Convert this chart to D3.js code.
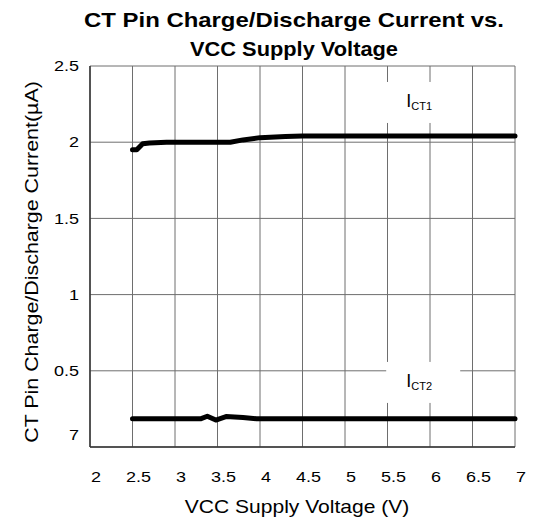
<!DOCTYPE html>
<html>
<head>
    <meta charset="utf-8" />
    <title>CT Pin Charge/Discharge Current</title>
    <script type="text/javascript" src="https://cdn.jsdelivr.net/npm/d3@7/dist/d3.min.js"></script>
    <style>
        body { margin: 0; background: #fff; }
        text { font-family: Arial, "Liberation Sans", sans-serif; fill: #000; }
    </style>
</head>
<body>
    <div id="graph"></div>
    <script>
        // data
        var ict1Voltage = [2.5, 2.55, 2.62, 2.7, 2.9, 3.3, 3.65, 3.8, 4.0, 4.3, 4.5, 5, 6, 7];
        var ict1Current = [1.95, 1.95, 1.99, 1.995, 2.0, 2.0, 2.0, 2.015, 2.03, 2.037, 2.04, 2.04, 2.04, 2.04];
        var ict2Voltage = [2.5, 3.0, 3.3, 3.38, 3.48, 3.6, 3.8, 3.96, 5, 6, 7];
        var ict2Current = [0.185, 0.185, 0.185, 0.202, 0.177, 0.2, 0.194, 0.185, 0.185, 0.185, 0.185];
        var seriesNames = ["CT1", "CT2"];
        var xTicks = [2, 2.5, 3, 3.5, 4, 4.5, 5, 5.5, 6, 6.5, 7];
        var yTicks = [0, 0.5, 1, 1.5, 2, 2.5];
        var yTickLabels = ["7", "0.5", "1", "1.5", "2", "2.5"];

        var w = 536;
        var h = 521;
        var margin = { left: 90, right: 21, top: 66, bottom: 74 };

        var svg = d3.select("#graph")
            .append("svg")
            .attr("width", w)
            .attr("height", h);

        var x = d3.scaleLinear().domain([2, 7]).range([margin.left, w - margin.right]);
        var y = d3.scaleLinear().domain([0, 2.5]).range([h - margin.bottom, margin.top]);

        // the reference text is a bit wider than Arial, stretch it sideways
        function place(px, py, sx, rot) {
            return "translate(" + px + "," + py + ")" + (rot ? " rotate(" + rot + ")" : "") + " scale(" + sx + ",1)";
        }

        // title
        svg.append("text")
            .attr("x", 84).attr("y", 27)
            .attr("font-size", "21px").attr("font-weight", "bold")
            .attr("textLength", 420).attr("lengthAdjust", "spacingAndGlyphs")
            .text("CT Pin Charge/Discharge Current vs.");
        svg.append("text")
            .attr("x", 190).attr("y", 56)
            .attr("font-size", "21px").attr("font-weight", "bold")
            .attr("textLength", 208).attr("lengthAdjust", "spacingAndGlyphs")
            .text("VCC Supply Voltage");

        // grid
        svg.selectAll("line.vgrid")
            .data(xTicks)
            .enter()
            .append("line")
            .attr("class", "vgrid")
            .attr("x1", function (d) { return x(d); })
            .attr("x2", function (d) { return x(d); })
            .attr("y1", y(0))
            .attr("y2", y(2.5))
            .attr("stroke", "#6e6e6e")
            .attr("stroke-width", 1);
        svg.selectAll("line.hgrid")
            .data(yTicks)
            .enter()
            .append("line")
            .attr("class", "hgrid")
            .attr("x1", x(2))
            .attr("x2", x(7))
            .attr("y1", function (d) { return y(d); })
            .attr("y2", function (d) { return y(d); })
            .attr("stroke", "#6e6e6e")
            .attr("stroke-width", 1);

        // axis frame (left + bottom darker)
        svg.append("line")
            .attr("x1", x(2)).attr("x2", x(2))
            .attr("y1", y(0)).attr("y2", y(2.5))
            .attr("stroke", "#333").attr("stroke-width", 1.5);
        svg.append("line")
            .attr("x1", x(2)).attr("x2", x(7))
            .attr("y1", y(0)).attr("y2", y(0))
            .attr("stroke", "#333").attr("stroke-width", 1.5);

        // tick labels
        svg.selectAll("text.xtick")
            .data(xTicks)
            .enter()
            .append("text")
            .attr("class", "xtick")
            .attr("transform", function (d) { return place(x(d) + 6, 482, 1.2); })
            .attr("text-anchor", "middle")
            .attr("font-size", "15px")
            .text(function (d) { return d; });
        svg.selectAll("text.ytick")
            .data(yTicks)
            .enter()
            .append("text")
            .attr("class", "ytick")
            .attr("transform", function (d, i) { return place(79, y(d) + (i === 0 ? -12 : 0), 1.2); })
            .attr("dy", "0.35em")
            .attr("text-anchor", "end")
            .attr("font-size", "15px")
            .text(function (d, i) { return yTickLabels[i]; });

        // axis titles
        svg.append("text")
            .attr("transform", place(297, 513, 1.17))
            .attr("text-anchor", "middle")
            .attr("font-size", "18px")
            .text("VCC Supply Voltage (V)");
        svg.append("text")
            .attr("transform", place(38, 262, 1.19, -90))
            .attr("text-anchor", "middle")
            .attr("font-size", "18px")
            .text("CT Pin Charge/Discharge Current(\u00b5A)");

        // series lines
        var line = d3.line()
            .x(function (d) { return x(d[0]); })
            .y(function (d) { return y(d[1]); });
        var series = [d3.zip(ict1Voltage, ict1Current), d3.zip(ict2Voltage, ict2Current)];
        svg.selectAll("path.series")
            .data(series)
            .enter()
            .append("path")
            .attr("class", "series")
            .attr("d", line)
            .attr("fill", "none")
            .attr("stroke", "#000")
            .attr("stroke-width", 5)
            .attr("stroke-linecap", "round")
            .attr("stroke-linejoin", "round");

        // series labels on white boxes
        var labelPos = [[5.92, 2.264], [5.92, 0.427]];
        var labels = svg.selectAll("g.lbl")
            .data(seriesNames)
            .enter()
            .append("g")
            .attr("class", "lbl")
            .attr("transform", function (d, i) {
                return "translate(" + x(labelPos[i][0]) + "," + y(labelPos[i][1]) + ")";
            });
        labels.append("rect")
            .attr("x", -37).attr("y", -20)
            .attr("width", 74).attr("height", 41)
            .attr("fill", "#fff");
        var t = labels.append("text")
            .attr("x", -17).attr("y", 5)
            .attr("font-size", "18px");
        t.append("tspan").text("I");
        t.append("tspan")
            .attr("font-size", "11px")
            .attr("dy", 3)
            .text(function (d) { return d; });
    </script>
</body>
</html>
